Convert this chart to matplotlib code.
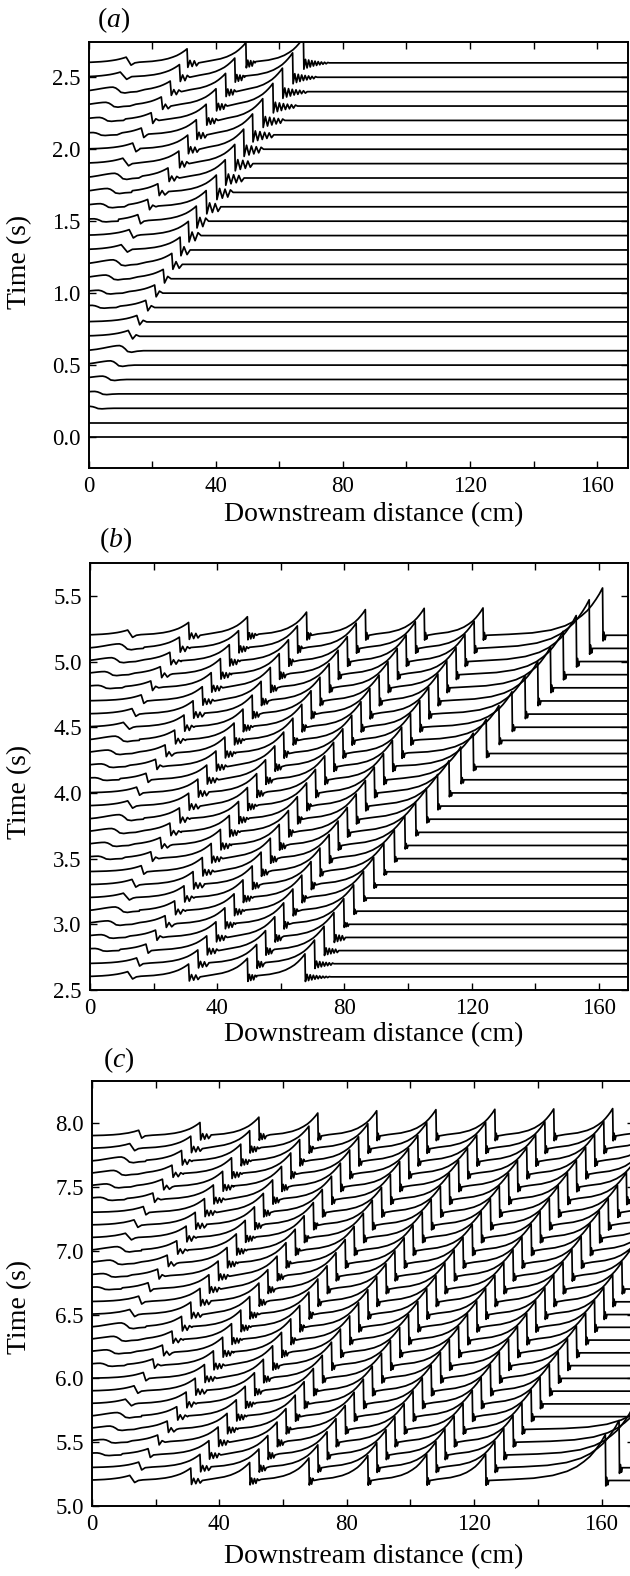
import numpy as np
import matplotlib
matplotlib.use("Agg")
import matplotlib.pyplot as plt

plt.rcParams["font.family"] = ["Liberation Serif", "DejaVu Serif"]
plt.rcParams["mathtext.fontset"] = "custom"
plt.rcParams["mathtext.rm"] = "Liberation Serif"
plt.rcParams["mathtext.it"] = "Liberation Serif:italic"

### Data (cm for fronts, s for times)
# panel (a): one row per trace, t = 0.0 ... 2.6
TIMES_A = [0.0, 0.1, 0.2, 0.3, 0.4, 0.5, 0.6, 0.7, 0.8, 0.9, 1.0, 1.1, 1.2, 1.3,
           1.4, 1.5, 1.6, 1.7, 1.8, 1.9, 2.0, 2.1, 2.2, 2.3, 2.4, 2.5, 2.6]
LEAD_A = [None, None, 0.5, 2.0, 4.5, 7.0, 9.8, 12.5, 15.2, 18.0, 20.8, 23.5, 26.2, 28.8,
          31.4, 33.9, 37.0, 40.2, 43.0, 46.0, 48.8, 51.6, 54.8, 58.0, 61.0, 64.2, 67.6]
W2_A = [None] * 9 + [1.2, 3.2, 5.5, 7.8, 10.3, 12.8, 15.5, 18.6, 21.8, 25.0, 28.4,
                     31.2, 33.9, 37.0, 40.1, 43.1, 46.0, 49.5]
W3_A = [None] * 15 + [1.8, 3.8, 6.0, 8.3, 10.8, 13.9, 16.6, 19.7, 22.9, 25.7, 28.6, 31.0]
W4_A = [None] * 21 + [1.5, 3.5, 5.5, 7.7, 10.0, 11.85]

# panel (b): t = 2.6 ... 5.2
TIMES_B = [2.6, 2.7, 2.8, 2.9, 3.0, 3.1, 3.2, 3.3, 3.4, 3.5, 3.6, 3.7, 3.8, 3.9,
           4.0, 4.1, 4.2, 4.3, 4.4, 4.5, 4.6, 4.7, 4.8, 4.9, 5.0, 5.1, 5.2]
FRONTS_B = [
    [11.85, 31.0, 49.5],
    [14.65, 33.9, 52.4],
    [1.6, 17.6, 36.7, 55.2],
    [3.6, 20.6, 39.6, 58.1],
    [5.7, 23.6, 42.4, 60.9],
    [8.0, 26.6, 45.3, 63.8],
    [10.5, 29.55, 48.1, 66.6],
    [13.2, 32.4, 51.0, 69.5],
    [16.1, 35.3, 53.8, 72.3],
    [2.6, 19.1, 38.1, 56.7, 75.2],
    [4.65, 22.1, 41.0, 59.5, 78.0],
    [6.85, 25.1, 43.8, 62.4, 80.9],
    [9.25, 28.1, 46.7, 65.2, 83.7],
    [11.85, 31.0, 49.5, 68.1, 86.6],
    [14.65, 33.9, 52.4, 70.9, 89.4],
    [1.6, 17.6, 36.7, 55.2, 73.8, 92.3],
    [3.6, 20.6, 39.6, 58.1, 76.6, 95.1],
    [5.7, 23.6, 42.4, 60.9, 79.5, 98.0],
    [8.0, 26.6, 45.3, 63.8, 82.3, 100.8],
    [10.5, 29.55, 48.1, 66.6, 85.2, 103.7],
    [13.2, 32.4, 51.0, 69.5, 88.0, 106.5],
    [16.1, 35.3, 53.8, 72.3, 90.9, 109.4],
    [2.6, 19.1, 38.1, 56.7, 75.2, 93.7, 112.2],
    [4.65, 22.1, 41.0, 59.5, 78.0, 96.6, 115.1],
    [6.85, 25.1, 43.8, 62.4, 80.9, 99.4, 117.9],
    [9.25, 28.1, 46.7, 65.2, 83.7, 102.3, 120.8],
    [11.85, 31.0, 49.5, 68.1, 86.6, 105.1, 123.6],
]
LEAD_B = [67.6, 70.6, 73.6, 76.7, 79.8, 82.9, 86.0, 89.2, 92.4, 95.7, 99.0, 102.4, 105.8,
          109.3, 112.9, 116.6, 120.5, 124.6, 128.6, 132.7, 136.8, 140.8, 144.8, 148.8,
          152.9, 157.0, 161.2]
LEAD_B_AMP = [0.175, 0.18, 0.185, 0.19, 0.195, 0.2, 0.205, 0.21, 0.215, 0.22, 0.225, 0.23,
              0.235, 0.24, 0.245, 0.25, 0.255, 0.26, 0.265, 0.27, 0.29, 0.30, 0.31, 0.33,
              0.35, 0.37, 0.36]

# panel (c): t = 5.2 ... 7.9
TIMES_C = [5.2, 5.3, 5.4, 5.5, 5.6, 5.7, 5.8, 5.9, 6.0, 6.1, 6.2, 6.3, 6.4, 6.5,
           6.6, 6.7, 6.8, 6.9, 7.0, 7.1, 7.2, 7.3, 7.4, 7.5, 7.6, 7.7, 7.8, 7.9]
FRONTS_C = [
    [11.85, 31.0, 49.5, 68.1, 86.6, 105.1, 123.6],
    [14.65, 33.9, 52.4, 70.9, 89.4, 108.0, 126.5],
    [1.6, 17.6, 36.7, 55.2, 73.8, 92.3, 110.8, 129.3],
    [3.6, 20.6, 39.6, 58.1, 76.6, 95.1, 113.7, 132.2],
    [5.7, 23.6, 42.4, 60.9, 79.5, 98.0, 116.5, 135.0],
    [8.0, 26.6, 45.3, 63.8, 82.3, 100.8, 119.4, 137.9],
    [10.5, 29.55, 48.1, 66.6, 85.2, 103.7, 122.2, 140.7],
    [13.2, 32.4, 51.0, 69.5, 88.0, 106.5, 125.1, 143.6],
    [16.1, 35.3, 53.8, 72.3, 90.9, 109.4, 127.9, 146.4],
    [2.6, 19.1, 38.1, 56.7, 75.2, 93.7, 112.2, 130.8, 149.3],
    [4.65, 22.1, 41.0, 59.5, 78.0, 96.6, 115.1, 133.6, 152.1],
    [6.85, 25.1, 43.8, 62.4, 80.9, 99.4, 117.9, 136.5, 155.0],
    [9.25, 28.1, 46.7, 65.2, 83.7, 102.3, 120.8, 139.3, 157.8],
    [11.85, 31.0, 49.5, 68.1, 86.6, 105.1, 123.6, 142.2, 160.7],
    [14.65, 33.9, 52.4, 70.9, 89.4, 108.0, 126.5, 145.0, 163.5],
    [1.6, 17.6, 36.7, 55.2, 73.8, 92.3, 110.8, 129.3, 147.9, 166.4],
    [3.6, 20.6, 39.6, 58.1, 76.6, 95.1, 113.7, 132.2, 150.7, 169.2],
    [5.7, 23.6, 42.4, 60.9, 79.5, 98.0, 116.5, 135.0, 153.6, 172.1],
    [8.0, 26.6, 45.3, 63.8, 82.3, 100.8, 119.4, 137.9, 156.4, 175.0],
    [10.5, 29.55, 48.1, 66.6, 85.2, 103.7, 122.2, 140.7, 159.3, 177.8],
    [13.2, 32.4, 51.0, 69.5, 88.0, 106.5, 125.1, 143.6, 162.1, 180.6],
    [16.1, 35.3, 53.8, 72.3, 90.9, 109.4, 127.9, 146.4, 165.0, 183.5],
    [2.6, 19.1, 38.1, 56.7, 75.2, 93.7, 112.2, 130.8, 149.3, 167.8],
    [4.65, 22.1, 41.0, 59.5, 78.0, 96.6, 115.1, 133.6, 152.1, 170.7],
    [6.85, 25.1, 43.8, 62.4, 80.9, 99.4, 117.9, 136.5, 155.0, 173.5],
    [9.25, 28.1, 46.7, 65.2, 83.7, 102.3, 120.8, 139.3, 157.8, 176.4],
    [11.85, 31.0, 49.5, 68.1, 86.6, 105.1, 123.6, 142.2, 160.7, 179.2],
    [14.65, 33.9, 52.4, 70.9, 89.4, 108.0, 126.5, 145.0, 163.5, 182.1],
]
LEAD_C = [161.2, 165.5, 169.8, 174.0, 178.2] + [None] * 23
LEAD_C_AMP = [0.36, 0.37, 0.37, 0.37, 0.37] + [None] * 23

# crest height (s) against front position (cm)
AMP_X = [0, 4, 8, 12, 16, 20, 25, 30, 40, 49, 67, 86, 105, 170]
AMP_H = [0.012, 0.022, 0.032, 0.04, 0.046, 0.054, 0.07, 0.095, 0.12, 0.14, 0.175, 0.195, 0.205, 0.215]

### Wave shape (fractions of crest height)
RISE_ROUND_S = [3.0, 2.4, 1.8, 1.3, 0.9, 0.55, 0.25, 0.0]
RISE_ROUND_F = [0.0, 0.1, 0.28, 0.5, 0.7, 0.86, 0.97, 1.0]
DESC_S = [0.35, 0.7, 1.0, 1.5, 2.2, 3.0]
DESC_F = [0.8, 0.35, -0.15, -0.3, -0.1, 0.0]
RISE_S = [4.0, 3.0, 2.2, 1.6, 1.2, 0.9, 0.65, 0.45, 0.28, 0.14, 0.0]
RISE_F = [0.02, 0.05, 0.11, 0.2, 0.3, 0.41, 0.52, 0.64, 0.76, 0.87, 1.0]
RIPPLE = [-1.0, 0.55, -0.8, 0.45, -0.65, 0.35, -0.5, 0.27, -0.4, 0.2, -0.3, 0.14,
          -0.22, 0.1, -0.15, 0.06, -0.1, 0.03]


def wave_points(xf, amp, L=5.0, ripn=None, ripdx=None, ripa=None):
    if xf < 10:
        xs = [xf - s * 4.0 for s in RISE_ROUND_S] + [xf + s * 2.5 for s in DESC_S]
        hs = [f * amp for f in RISE_ROUND_F] + [f * amp for f in DESC_F]
        return xs, hs
    drop = np.interp(xf, [10, 14, 20, 30, 50], [2.0, 1.0, 0.5, 0.25, 0.15])
    if ripn is None:
        ripn = int(np.interp(xf, [12, 18, 25, 35, 50, 70, 100], [1, 2, 4, 6, 6, 4, 3]))
        ripdx = np.interp(xf, [12, 18, 25, 35, 50, 70, 100], [1.2, 1.0, 0.8, 0.6, 0.45, 0.35, 0.3])
        ripa = np.interp(xf, [12, 18, 25, 35, 50, 70, 100], [0.4, 0.4, 0.35, 0.3, 0.24, 0.2, 0.18])
    xs = [xf - s * L for s in RISE_S]
    hs = [f * amp for f in RISE_F]
    for i in range(ripn):
        xs.append(xf + drop + i * ripdx)
        hs.append(RIPPLE[i] * ripa * amp)
    xs.append(xf + drop + ripn * ripdx)
    hs.append(0.0)
    return xs, hs


def trace_line(waves):
    # waves: list of (front, kwargs); joined left to right
    X, Y = [-10.0], [0.0]
    for xf, kw in sorted(waves, key=lambda w: w[0]):
        xs, hs = wave_points(xf, **kw)
        for x, h in zip(xs, hs):
            if x > X[-1]:
                X.append(x)
                Y.append(h)
    X.append(200.0)
    Y.append(0.0)
    return np.array(X), np.array(Y)


def normal(xf):
    return (xf, dict(amp=float(np.interp(xf, AMP_X, AMP_H))))


W, H = 630, 1576
fig = plt.figure(figsize=(W / 100, H / 100), dpi=100)


def rect(l, r, t, b):
    return [l / W, 1 - b / H, (r - l) / W, (b - t) / H]


def style_axes(ax, ylo, yhi, yticks, xmax):
    ax.set_xlim(0, xmax)
    ax.set_ylim(ylo, yhi)
    ax.set_xticks([0, 40, 80, 120, 160])
    ax.set_xticks([20, 60, 100, 140], minor=True)
    ax.set_yticks(yticks)
    ax.set_yticklabels(["%.1f" % v for v in yticks])
    ax.tick_params(which="both", direction="in", top=True, right=True, length=5,
                   width=1.0, labelsize=16.5, pad=6)
    for s in ax.spines.values():
        s.set_linewidth(1.4)


lw = 1.25

### (a)
axA = fig.add_axes(rect(88.5, 628, 42, 468))
for i, t in enumerate(TIMES_A):
    waves = []
    if LEAD_A[i] is not None:
        x = LEAD_A[i]
        kw = dict(amp=float(np.interp(x, AMP_X, AMP_H)))
        if x >= 10:
            kw.update(ripn=int(np.interp(x, [15, 25, 35, 50, 67], [2, 3, 5, 9, 16])),
                      ripdx=float(np.interp(x, [15, 25, 35, 50, 67], [1.1, 1.0, 0.9, 0.75, 0.5])),
                      ripa=float(np.interp(x, [15, 25, 35, 50, 67], [0.45, 0.45, 0.45, 0.35, 0.25])))
        waves.append((x, kw))
    for col in (W2_A, W3_A, W4_A):
        if col[i] is not None:
            waves.append(normal(col[i]))
    X, Y = trace_line(waves)
    axA.plot(X, t + Y, color="black", lw=lw)
style_axes(axA, -0.215, 2.745, [0.0, 0.5, 1.0, 1.5, 2.0, 2.5], 169.7)

### (b)
axB = fig.add_axes(rect(90, 628, 563, 990))
lead_ripn_b = [16, 12, 9, 7, 5]
for i, t in enumerate(TIMES_B):
    waves = [normal(x) for x in FRONTS_B[i]]
    amp = LEAD_B_AMP[i]
    n = lead_ripn_b[i] if i < len(lead_ripn_b) else 3
    waves.append((LEAD_B[i], dict(amp=amp, L=float(np.interp(amp, [0.17, 0.37], [5, 7.5])),
                                  ripn=n, ripdx=0.5 if i < 4 else 0.3, ripa=0.2 if i < 4 else 0.12)))
    X, Y = trace_line(waves)
    axB.plot(X, t + Y, color="black", lw=lw)
style_axes(axB, 2.5, 5.75, [2.5, 3.0, 3.5, 4.0, 4.5, 5.0, 5.5], 169.2)

### (c)
axC = fig.add_axes(rect(92, 634, 1081, 1506))
for i, t in enumerate(TIMES_C):
    waves = [normal(x) for x in FRONTS_C[i]]
    if LEAD_C[i] is not None:
        amp = LEAD_C_AMP[i]
        waves.append((LEAD_C[i], dict(amp=amp, L=7.5, ripn=3, ripdx=0.3, ripa=0.12)))
    X, Y = trace_line(waves)
    axC.plot(X, t + Y, color="black", lw=lw)
style_axes(axC, 5.0, 8.33, [5.0, 5.5, 6.0, 6.5, 7.0, 7.5, 8.0], 170.2)

### labels
for lab, (px, py) in zip("abc", [(114, 20), (116, 540), (119, 1060)]):
    fig.text(px / W, 1 - py / H, r"$(\mathit{%s})$" % lab, fontsize=20, ha="center", va="center")
for py in (515, 1035, 1557):
    fig.text(374 / W, 1 - py / H, "Downstream distance (cm)", fontsize=20, ha="center", va="center")
for py in (262, 792, 1307):
    fig.text(20 / W, 1 - py / H, "Time (s)", fontsize=20, rotation=90, ha="center", va="center")

fig.savefig("out.png", dpi=100)
